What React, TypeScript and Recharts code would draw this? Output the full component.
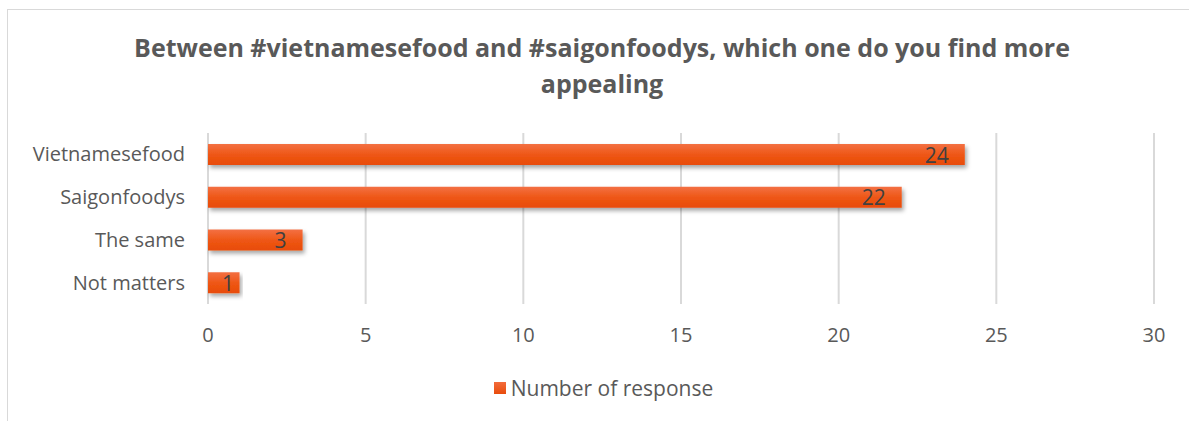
import {
  Bar,
  BarChart,
  CartesianGrid,
  LabelList,
  XAxis,
  YAxis,
} from "recharts";

const categories = ["Vietnamesefood", "Saigonfoodys", "The same", "Not matters"];
const responses = [24, 22, 3, 1];
const xTicks = [0, 5, 10, 15, 20, 25, 30];
const title = "Between #vietnamesefood and #saigonfoodys, which one do you find more appealing";
const seriesName = "Number of response";

const data = categories.map((name, i) => ({ name, value: responses[i] }));

const FONT = "'Open Sans', sans-serif";

// inside-end label, but kept clear of the axis on very short bars
const EndLabel = (props: any) => {
  const { x, y, width, height, value } = props;
  const end = Math.max(x + width - 16, x + 26);
  return (
    <text
      x={end}
      y={y + height / 2}
      textAnchor="end"
      dominantBaseline="central"
      fill="#404040"
      fontSize={21}
      fontFamily={FONT}
    >
      {value}
    </text>
  );
};

export default function App() {
  return (
    <div style={{ position: "absolute", left: 0, top: 0, width: 1189, height: 421, background: "#fff", overflow: "hidden" }}>
      <div
        style={{
          position: "absolute",
          left: 7,
          top: 9,
          width: 1300,
          height: 500,
          border: "1px solid #d9d9d9",
        }}
      />
      <div
        style={{
          position: "absolute",
          left: 122,
          top: 29,
          width: 960,
          textAlign: "center",
          fontFamily: FONT,
          fontWeight: 700,
          fontSize: 25,
          lineHeight: "36px",
          color: "#595959",
        }}
      >
        {title}
      </div>
      <div style={{ position: "absolute", left: 0, top: 0 }}>
        <BarChart
          width={1189}
          height={421}
          data={data}
          layout="vertical"
          barSize={21}
          margin={{ top: 133, right: 35, bottom: 77, left: 0 }}
        >
          <defs>
            <linearGradient id="barFill" x1="0" y1="0" x2="0" y2="1">
              <stop offset="0%" stopColor="#f37043" />
              <stop offset="55%" stopColor="#ee5513" />
              <stop offset="100%" stopColor="#e84c0a" />
            </linearGradient>
            <filter id="barShadow" x="-5%" y="-30%" width="115%" height="180%">
              <feDropShadow dx="2" dy="3" stdDeviation="2" floodColor="#000" floodOpacity="0.35" />
            </filter>
          </defs>
          <CartesianGrid horizontal={false} stroke="#d9d9d9" strokeWidth={2} />
          <XAxis
            type="number"
            domain={[0, 30]}
            ticks={xTicks}
            height={40}
            axisLine={false}
            tickLine={false}
            tickSize={0}
            tickMargin={24}
            interval={0}
            tick={{ fill: "#595959", fontSize: 20, fontFamily: FONT }}
          />
          <YAxis
            type="category"
            dataKey="name"
            width={208}
            axisLine={false}
            tickLine={false}
            tickSize={0}
            tickMargin={23}
            tick={{ fill: "#595959", fontSize: 20, fontFamily: FONT }}
          />
          <Bar
            dataKey="value"
            name={seriesName}
            fill="url(#barFill)"
            filter="url(#barShadow)"
            isAnimationActive={false}
          >
            <LabelList dataKey="value" content={EndLabel} />
          </Bar>
        </BarChart>
      </div>
      <div
        style={{
          position: "absolute",
          left: 0,
          top: 374,
          width: 1189,
          display: "flex",
          justifyContent: "center",
          alignItems: "center",
          fontFamily: FONT,
          fontSize: 21,
          color: "#595959",
          paddingLeft: 18,
          boxSizing: "border-box",
        }}
      >
        <span
          style={{
            width: 12,
            height: 12,
            background: "linear-gradient(#f36b3b, #e84c0c)",
            marginRight: 5,
            display: "inline-block",
          }}
        />
        {seriesName}
      </div>
    </div>
  );
}
